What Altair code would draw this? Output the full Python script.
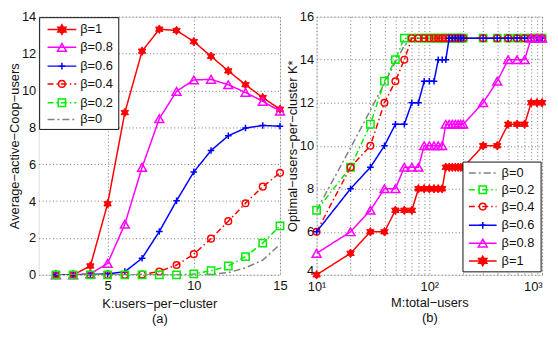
import math
import altair as alt
import pandas as pd

# ---------------- data ----------------
K = [2, 3, 4, 5, 6, 7, 8, 9, 10, 11, 12, 13, 14, 15]
left_b1 = [0, 0, 0.48, 3.85, 8.8, 12.13, 13.32, 13.25, 12.65, 11.85, 11.06, 10.31, 9.61, 8.98]
left_b08 = [0, 0, 0.05, 0.62, 2.75, 5.83, 8.47, 9.95, 10.57, 10.6, 10.31, 9.89, 9.41, 8.88]
left_b06 = [0, 0, 0.02, 0.05, 0.17, 0.9, 2.35, 4.02, 5.58, 6.74, 7.54, 7.96, 8.1, 8.06]
left_b04 = [0, 0, 0, 0, 0, 0.02, 0.18, 0.53, 1.12, 1.96, 2.91, 3.88, 4.78, 5.53]
left_b02 = [0, 0, 0, 0, 0, 0, 0, 0, 0.05, 0.22, 0.48, 0.99, 1.72, 2.65]
left_b0 = [0, 0, 0, 0, 0, 0, 0, 0, 0, 0.02, 0.12, 0.38, 0.8, 1.65]

M = [10, 20, 30, 40, 50, 60, 70, 80, 90, 100, 110, 120, 130, 140, 150, 160, 170,
     180, 190, 200, 300, 400, 500, 600, 700, 800, 900, 1000]
right_b1 = [4, 5, 6, 6, 7, 7, 7, 8, 8, 8, 8, 8, 8, 9, 9, 9, 9, 9, 9, 9, 10, 10, 11, 11, 11, 12, 12, 12]
right_b08 = [5, 6, 7, 8, 8, 9, 9, 9, 10, 10, 10, 10, 10, 11, 11, 11, 11, 11, 11, 11, 12, 13, 14, 14, 14, 15, 15, 15]
right_b06 = [6, 8, 9, 10, 11, 11, 12, 12, 13, 13, 13, 14, 14, 14, 15, 15, 15, 15, 15, 15, 15, 15, 15, 15, 15, 15, 15, 15]
right_b04 = [6, 9, 10, 12, 13, 14, 15, 15, 15, 15, 15, 15, 15, 15, 15, 15, 15, 15, 15, 15, 15, 15, 15, 15, 15, 15, 15, 15]
right_b02 = [7, 9, 11, 13, 14, 15, 15, 15, 15, 15, 15, 15, 15, 15, 15, 15, 15, 15, 15, 15, 15, 15, 15, 15, 15, 15, 15, 15]
right_b0 = [7, 9.9, 11.65, 12.9, 13.9, 14.65, 15, 15, 15, 15, 15, 15, 15, 15, 15, 15, 15, 15, 15, 15, 15, 15, 15, 15, 15, 15, 15, 15]

labels = ["β=1", "β=0.8", "β=0.6", "β=0.4", "β=0.2", "β=0"]
left_values = [left_b1, left_b08, left_b06, left_b04, left_b02, left_b0]
right_values = [right_b1, right_b08, right_b06, right_b04, right_b02, right_b0]

# ---------------- styles ----------------
pts = []
for i in range(12):
    a = math.pi / 2 + i * math.pi / 6
    r = 1.0 if i % 2 == 0 else 0.58
    pts.append(f"{r * math.cos(a):.3f},{-r * math.sin(a):.3f}")
HEXAGRAM = "M" + "L".join(pts) + "Z"
PLUS = "M-1,0L1,0M0,-1L0,1"

DASHDOT = [6, 3, 1.5, 3]
styles = {
    "β=1": dict(color="#ff0000", dash=[1, 0], shape=HEXAGRAM, filled=True, size=75),
    "β=0.8": dict(color="#ff00ff", dash=[1, 0], shape="triangle-up", filled=False, size=80),
    "β=0.6": dict(color="#0000ff", dash=[1, 0], shape=PLUS, filled=False, size=45),
    "β=0.4": dict(color="#ff0000", dash=DASHDOT, shape="circle", filled=False, size=45),
    "β=0.2": dict(color="#00ee00", dash=DASHDOT, shape="square", filled=False, size=55),
    "β=0": dict(color="#808080", dash=[7, 3, 2, 3], shape=None, filled=False, size=0),
}

FONT = "Liberation Sans"
FS = 13
LW = 244
RW = 228
H = 261

left_df = pd.concat([pd.DataFrame({"K": K, "v": vals, "s": lab})
                     for lab, vals in zip(labels, left_values)])
right_df = pd.concat([pd.DataFrame({"M": M, "v": vals, "s": lab})
                      for lab, vals in zip(labels, right_values)])

grid_kw = dict(grid=True, gridDash=[1, 2.5], gridColor="#777", gridWidth=1,
               domain=False, ticks=False, labelFont=FONT, labelFontSize=FS,
               labelColor="#111", titleFont=FONT, titleFontSize=FS,
               titleColor="#111", titleFontWeight="normal")

lx = alt.X("K:Q", scale=alt.Scale(domain=[1, 15], nice=False, zero=False),
           axis=alt.Axis(values=[5, 10, 15], title=["K:users−per−cluster", "(a)"],
                         labelFlush=False, labelPadding=5, titlePadding=5,
                         titleLineHeight=15, **grid_kw))
ly = alt.Y("v:Q", scale=alt.Scale(domain=[0, 14], nice=False),
           axis=alt.Axis(values=list(range(0, 15, 2)), title="Average−active−Coop−users",
                         labelPadding=3, titlePadding=0, **grid_kw))

minor = [10, 20, 30, 40, 50, 60, 70, 80, 90, 100, 200, 300, 400, 500, 600, 700, 800, 900, 1000]
rx = alt.X("M:Q", scale=alt.Scale(type="log", domain=[10, 1000], nice=False),
           axis=alt.Axis(values=minor, title=["M:total−users", "(b)"], labelFlush=False,
                         labelAlign={"expr": "datum.value >= 999 ? 'right' : 'center'"},
                         labelExpr="datum.value==10?'10¹':datum.value==100?'10²':datum.value==1000?'10³':''",
                         labelPadding=6, titlePadding=3, titleLineHeight=15, **grid_kw))
ry = alt.Y("v:Q", scale=alt.Scale(domain=[4, 16], nice=False, zero=False),
           axis=alt.Axis(values=list(range(4, 17, 2)), title="Optimal−users−per−cluster K*",
                         labelBaseline={"expr": "datum.value == 4 ? 'alphabetic' : 'middle'"},
                         labelPadding=3, titlePadding=0, **grid_kw))


def series(df, x, y, lab):
    st = styles[lab]
    base = alt.Chart(df).transform_filter(alt.datum.s == lab)
    layers = [base.mark_line(color=st["color"], strokeWidth=1.5, strokeDash=st["dash"],
                             clip=True).encode(x=x, y=y)]
    if st["shape"] is not None:
        if st["filled"]:
            pm = base.mark_point(shape=st["shape"], filled=True, fill=st["color"],
                                 stroke=st["color"], strokeWidth=1, size=st["size"], opacity=1)
        else:
            pm = base.mark_point(shape=st["shape"], filled=False, stroke=st["color"],
                                 strokeWidth=1.5, size=st["size"], opacity=1)
        layers.append(pm.encode(x=x, y=y))
    return layers


one = alt.Data(values=[{"a": 1}])


def legend(order, x0, y0, x1, y1, ys, seg0, seg1, tx):
    layers = [alt.Chart(one).mark_rect(fill="white", stroke="#111", strokeWidth=1).encode(
        x=alt.value(x0), x2=alt.value(x1), y=alt.value(y0), y2=alt.value(y1))]
    for lab, yy in zip(order, ys):
        st = styles[lab]
        layers.append(alt.Chart(one).mark_rule(color=st["color"], strokeWidth=1.5,
                                               strokeDash=st["dash"]).encode(
            x=alt.value(seg0), x2=alt.value(seg1), y=alt.value(yy)))
        if st["shape"] is not None:
            if st["filled"]:
                pm = alt.Chart(one).mark_point(shape=st["shape"], filled=True, fill=st["color"],
                                               stroke=st["color"], size=st["size"], opacity=1)
            else:
                pm = alt.Chart(one).mark_point(shape=st["shape"], filled=False, stroke=st["color"],
                                               strokeWidth=1.5, size=st["size"], opacity=1)
            layers.append(pm.encode(x=alt.value((seg0 + seg1) / 2), y=alt.value(yy)))
        layers.append(alt.Chart(one).mark_text(align="left", baseline="middle", font=FONT,
                                               fontSize=FS, color="#111").encode(
            x=alt.value(tx), y=alt.value(yy), text=alt.value(lab)))
    return layers


left_layers = []
for lab in labels:
    left_layers += series(left_df, lx, ly, lab)
left_layers += legend(labels, 1, 1, 81, 114, [13, 31, 50, 68, 87, 104], 9, 38, 42)
left = alt.layer(*left_layers).properties(width=LW, height=H)

right_layers = []
for lab in labels[::-1]:
    right_layers += series(right_df, rx, ry, lab)
rb = H
right_layers += legend(labels[::-1], RW - 80, rb - 114, RW - 1, rb - 3,
                       [rb - 103, rb - 86, rb - 69, rb - 50, rb - 32, rb - 14],
                       RW - 74, RW - 46, RW - 41)
right = alt.layer(*right_layers).properties(width=RW, height=H)

chart = alt.hconcat(left, right, spacing=37, bounds="flush").properties(
    padding={"left": 0, "top": 0, "right": 0, "bottom": 0}
).configure_view(stroke="#222", strokeWidth=1.2).configure(background="white")

chart.save("out.html", embed_options={"renderer": "svg", "actions": False})
